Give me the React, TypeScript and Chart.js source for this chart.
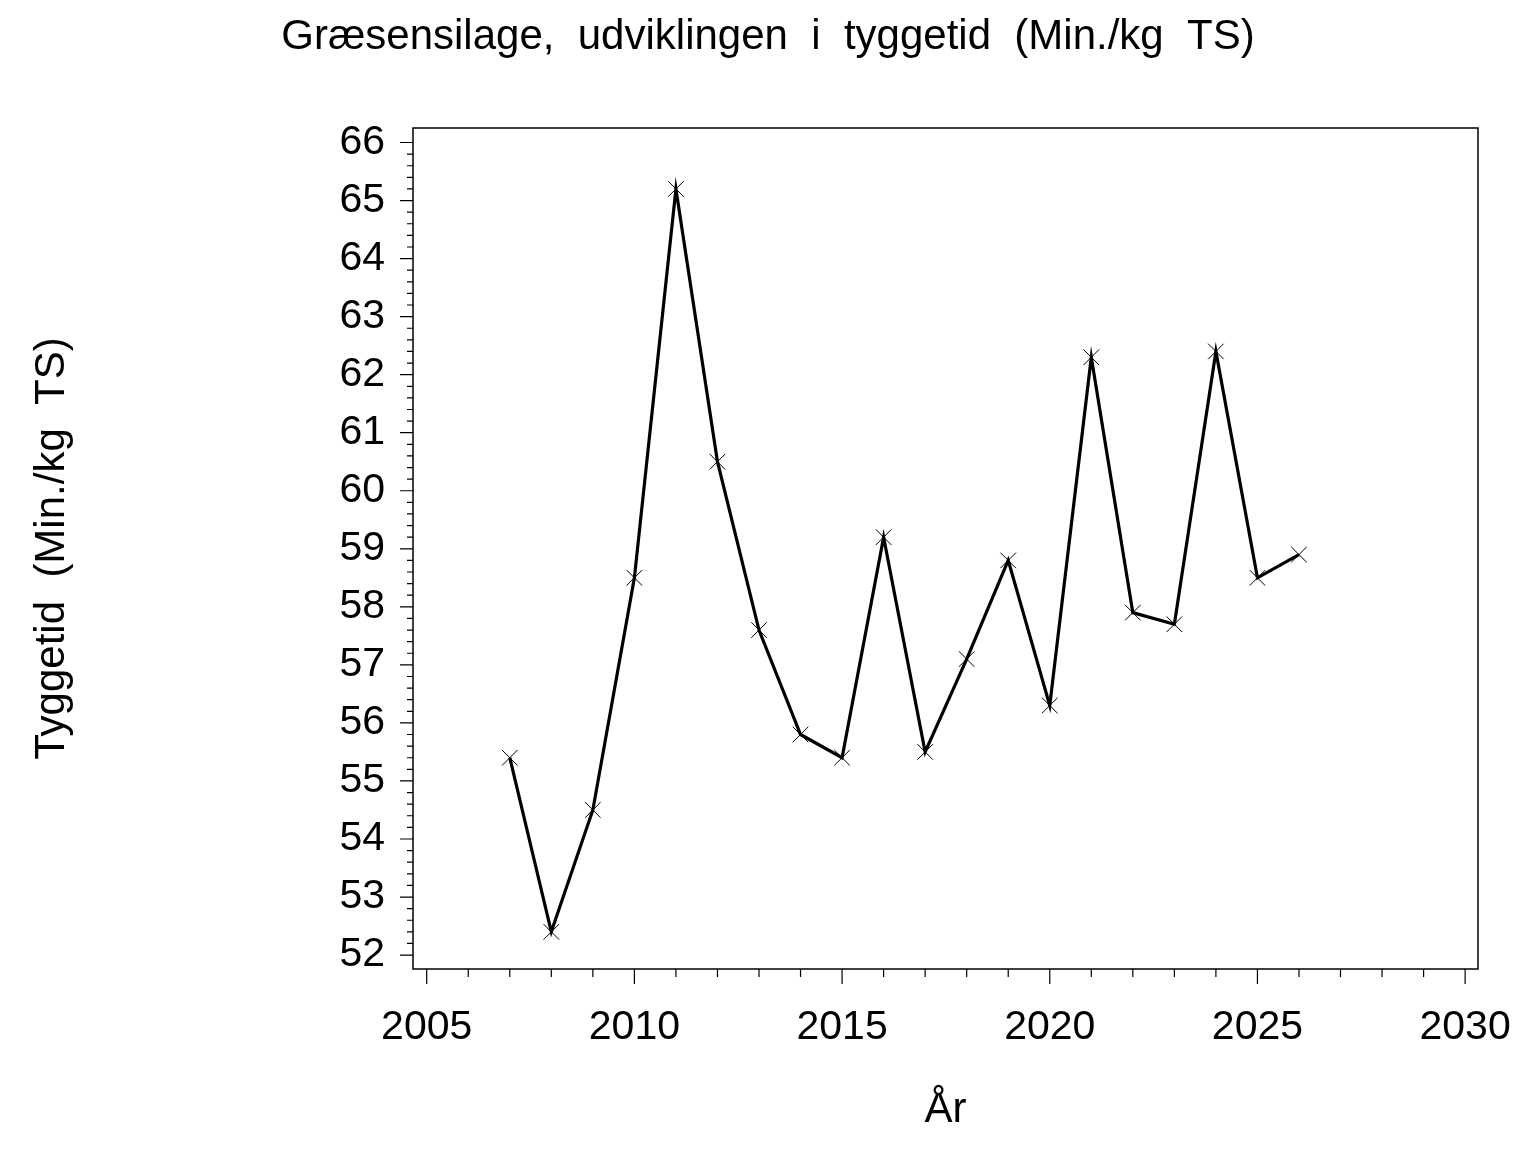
import React, { useEffect, useRef } from "react";
import { Chart, registerables } from "chart.js";

Chart.register(...registerables);

const TITLE = "Græsensilage,  udviklingen  i  tyggetid  (Min./kg  TS)";
const Y_TITLE = "Tyggetid  (Min./kg  TS)";
const X_TITLE = "År";

const YEARS = [2007, 2008, 2009, 2010, 2011, 2012, 2013, 2014, 2015, 2016, 2017, 2018, 2019, 2020, 2021, 2022, 2023, 2024, 2025, 2026];
const VALUES = [55.4, 52.4, 54.5, 58.5, 65.2, 60.5, 57.6, 55.8, 55.4, 59.2, 55.5, 57.1, 58.8, 56.3, 62.3, 57.9, 57.7, 62.4, 58.5, 58.9];

const X_MAJOR_TICKS = [2005, 2010, 2015, 2020, 2025, 2030];
const X_MINOR_STEP = 1;
const Y_MAJOR_TICKS = [52, 53, 54, 55, 56, 57, 58, 59, 60, 61, 62, 63, 64, 65, 66];
const Y_MINOR_STEP = 0.2;

const FONT = "'Liberation Sans', Arial, Helvetica, sans-serif";

const frameAndTicks = {
  id: "frameAndTicks",
  afterDraw(chart: any) {
    const { ctx, chartArea } = chart;
    const xs = chart.scales.x;
    const ys = chart.scales.y;
    ctx.save();
    ctx.strokeStyle = "#000";
    ctx.lineWidth = 1.5;
    ctx.strokeRect(chartArea.left, chartArea.top, chartArea.right - chartArea.left, chartArea.bottom - chartArea.top);
    ctx.lineWidth = 1.2;
    ctx.beginPath();
    const yFirst = Y_MAJOR_TICKS[0];
    const yLast = Y_MAJOR_TICKS[Y_MAJOR_TICKS.length - 1];
    const yn = Math.round((yLast - yFirst) / Y_MINOR_STEP);
    for (let i = 0; i <= yn; i++) {
      const v = yFirst + i * Y_MINOR_STEP;
      const major = Y_MAJOR_TICKS.some((t) => Math.abs(t - v) < 1e-6);
      const len = major ? 13 : 6;
      const p = ys.getPixelForValue(v);
      ctx.moveTo(chartArea.left - len, p);
      ctx.lineTo(chartArea.left, p);
    }
    const xFirst = X_MAJOR_TICKS[0];
    const xLast = X_MAJOR_TICKS[X_MAJOR_TICKS.length - 1];
    const xn = Math.round((xLast - xFirst) / X_MINOR_STEP);
    for (let i = 0; i <= xn; i++) {
      const v = xFirst + i * X_MINOR_STEP;
      const major = X_MAJOR_TICKS.some((t) => Math.abs(t - v) < 1e-6);
      const len = major ? 15 : 8;
      const p = xs.getPixelForValue(v);
      ctx.moveTo(p, chartArea.bottom);
      ctx.lineTo(p, chartArea.bottom + len);
    }
    ctx.stroke();
    ctx.restore();
  },
};

export default function App() {
  const ref = useRef<HTMLCanvasElement | null>(null);

  useEffect(() => {
    if (!ref.current) return;
    const chart = new Chart(ref.current, {
      type: "line",
      data: {
        datasets: [
          {
            data: YEARS.map((yr, i) => ({ x: yr, y: VALUES[i] })),
            borderColor: "#000",
            borderWidth: 3.2,
            tension: 0,
            pointStyle: "crossRot",
            pointRadius: 11,
            pointBorderWidth: 1,
            pointBorderColor: "#000",
            pointBackgroundColor: "#000",
            fill: false,
            yAxisID: "y",
            xAxisID: "x",
          },
        ],
      },
      options: {
        animation: false,
        responsive: false,
        devicePixelRatio: 1,
        layout: { padding: 0 },
        plugins: {
          legend: { display: false },
          tooltip: { enabled: false },
          title: {
            display: true,
            text: TITLE,
            color: "#000",
            font: { family: FONT, size: 42, weight: "normal", lineHeight: 1 },
            padding: { top: 16, bottom: 70 },
          },
        },
        scales: {
          x: {
            type: "linear",
            position: "bottom",
            min: 2004.67,
            max: 2030.31,
            grid: { display: false, drawTicks: false },
            border: { display: false },
            afterBuildTicks: (s: any) => {
              s.ticks = X_MAJOR_TICKS.map((v) => ({ value: v }));
            },
            afterFit: (s: any) => {
              s.height = 183;
              s.paddingLeft = 0;
              s.paddingRight = 0;
            },
            ticks: {
              color: "#000",
              font: { family: FONT, size: 41, lineHeight: 1 },
              padding: 38,
              maxRotation: 0,
              autoSkip: false,
              callback: (v: any) => String(v),
            },
            title: {
              display: true,
              text: X_TITLE,
              color: "#000",
              font: { family: FONT, size: 42, lineHeight: 1 },
              padding: { top: 0, bottom: 21 },
            },
          },
          y: {
            type: "linear",
            position: "left",
            min: 51.76,
            max: 66.25,
            grid: { display: false, drawTicks: false },
            border: { display: false },
            afterBuildTicks: (s: any) => {
              s.ticks = Y_MAJOR_TICKS.map((v) => ({ value: v }));
            },
            afterFit: (s: any) => {
              s.width = 413;
              s.paddingTop = 0;
              s.paddingBottom = 0;
            },
            ticks: {
              color: "#000",
              font: { family: FONT, size: 41, lineHeight: 1 },
              padding: 28,
              autoSkip: false,
              callback: (v: any) => String(v),
            },
            title: {
              display: true,
              text: Y_TITLE,
              color: "#000",
              font: { family: FONT, size: 42, lineHeight: 1 },
              padding: { top: 31, bottom: 0 },
            },
          },
          yRightSpace: {
            type: "linear",
            position: "right",
            min: 0,
            max: 1,
            grid: { display: false, drawTicks: false },
            border: { display: false },
            ticks: { display: false },
            afterFit: (s: any) => {
              s.width = 58;
              s.paddingTop = 0;
              s.paddingBottom = 0;
            },
          },
        },
      },
      plugins: [frameAndTicks],
    } as any);
    return () => chart.destroy();
  }, []);

  return (
    <div style={{ position: "fixed", left: 0, top: 0, width: 1536, height: 1152, background: "#fff" }}>
      <canvas ref={ref} width={1536} height={1152} style={{ display: "block", width: 1536, height: 1152 }} />
    </div>
  );
}
